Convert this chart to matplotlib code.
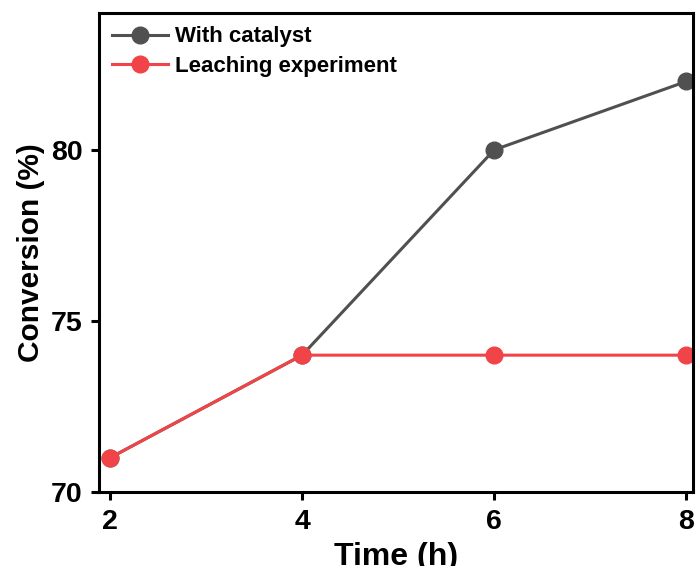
import matplotlib.pyplot as plt

plt.rcParams['font.family'] = ['Liberation Sans', 'DejaVu Sans']
plt.rcParams['font.weight'] = 'bold'

time = [2, 4, 6, 8]
with_catalyst = [71, 74, 80, 82]
leaching = [71, 74, 74, 74]

fig = plt.figure(figsize=(6.96, 5.66), dpi=100)
ax = fig.add_axes([0.1422, 0.1307, 0.8535, 0.8463])

ax.plot(time, with_catalyst, color="#505050", lw=2.2, marker="o", ms=12,
        label="With catalyst")
ax.plot(time, leaching, color="#f04448", lw=2.2, marker="o", ms=12,
        label="Leaching experiment")

ax.set_xlim(1.885, 8.07)
ax.set_ylim(70, 84)
ax.set_xticks([2, 4, 6, 8])
ax.set_yticks([70, 75, 80])

for s in ax.spines.values():
    s.set_linewidth(2.2)
ax.tick_params(direction="out", width=2.2, length=6, labelsize=20.5, pad=6)

ax.set_xlabel("Time (h)", fontsize=23, fontweight="bold", labelpad=5)
ax.set_ylabel("Conversion (%)", fontsize=21.5, fontweight="bold", labelpad=4)

ax.legend(loc="upper left", frameon=False, handlelength=2.5,
          handletextpad=0.3, borderaxespad=0.2, labelspacing=0.4,
          prop={"weight": "bold", "size": 16})

fig.savefig("out.png", dpi=100)
